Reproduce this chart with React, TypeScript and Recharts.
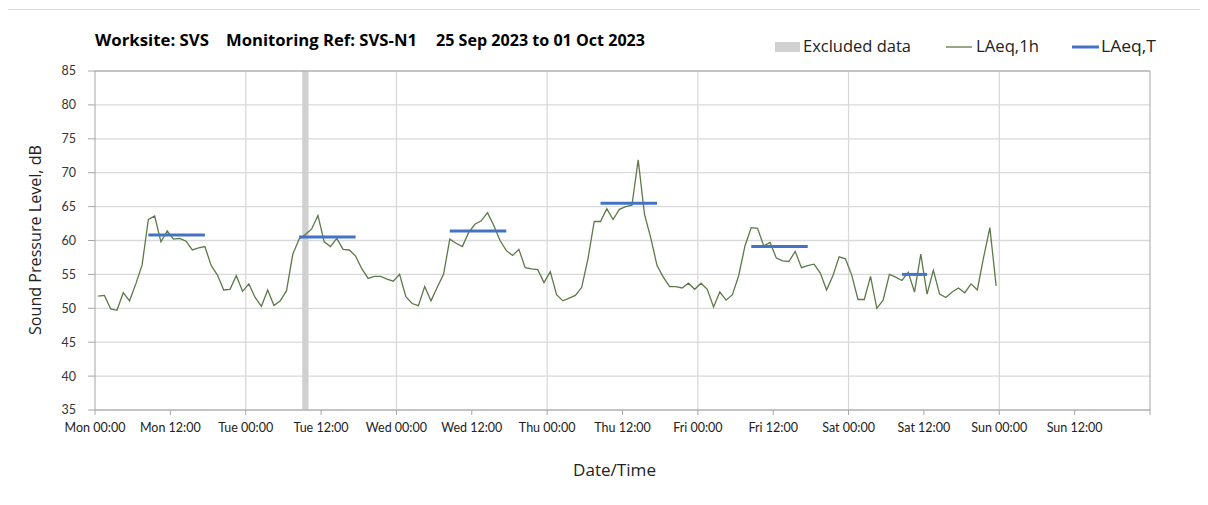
import React from 'react';
import { ComposedChart, Line, XAxis, YAxis, CartesianGrid, ReferenceLine, ReferenceArea } from 'recharts';

// Hourly LAeq,1h values (dB), Mon 00:00 onwards, one per hour
const LAEQ_1H = [
  51.8, 51.9, 49.9, 49.7, 52.3, 51.1, 53.6, 56.4, 63.1, 63.6, 59.8, 61.4,
  60.2, 60.3, 59.9, 58.6, 58.9, 59.1, 56.3, 54.9, 52.7, 52.8, 54.8, 52.5,
  53.6, 51.6, 50.3, 52.7, 50.4, 51.1, 52.6, 58.0, 60.2, 60.9, 61.7, 63.7,
  59.8, 59.1, 60.3, 58.7, 58.6, 57.7, 55.8, 54.4, 54.7, 54.7, 54.3, 54.0,
  55.0, 51.7, 50.7, 50.4, 53.2, 51.1, 53.1, 55.0, 60.2, 59.6, 59.1, 61.2,
  62.4, 62.9, 64.1, 62.2, 60.0, 58.5, 57.8, 58.7, 56.0, 55.8, 55.7, 53.8,
  55.4, 52.0, 51.1, 51.5, 51.9, 53.1, 57.3, 62.8, 62.8, 64.7, 63.1, 64.6,
  65.0, 65.2, 71.9, 63.9, 60.4, 56.3, 54.6, 53.2, 53.2, 53.0, 53.7, 52.8,
  53.7, 52.8, 50.2, 52.4, 51.2, 52.0, 54.8, 59.2, 61.9, 61.8, 59.2, 59.7,
  57.4, 57.0, 56.9, 58.4, 56.0, 56.3, 56.5, 55.2, 52.7, 54.8, 57.6, 57.3,
  54.9, 51.3, 51.3, 54.7, 50.0, 51.2, 55.0, 54.6, 54.1, 55.3, 52.4, 58.0,
  52.1, 55.6, 52.1, 51.6, 52.4, 53.0, 52.3, 53.6, 52.7, 57.5, 61.9, 53.3,
];

// LAeq,T daytime periods (hours from Mon 00:00)
const PERIOD_START = [8.5, 32.5, 56.5, 80.5, 104.5, 128.5];
const PERIOD_END = [17.5, 41.5, 65.5, 89.5, 113.5, 132.5];
const PERIOD_LEVEL = [60.8, 60.5, 61.4, 65.5, 59.1, 55.0];

// Excluded data (hours)
const EXCLUDED_FROM = 33;
const EXCLUDED_TO = 34;

const X_TICKS = [0, 12, 24, 36, 48, 60, 72, 84, 96, 108, 120, 132, 144, 156, 168];
const X_TICK_LABELS = [
  'Mon 00:00', 'Mon 12:00', 'Tue 00:00', 'Tue 12:00', 'Wed 00:00', 'Wed 12:00',
  'Thu 00:00', 'Thu 12:00', 'Fri 00:00', 'Fri 12:00', 'Sat 00:00', 'Sat 12:00',
  'Sun 00:00', 'Sun 12:00', '',
];
const DAY_LINES = [24, 48, 72, 96, 120, 144];
const Y_TICKS = [35, 40, 45, 50, 55, 60, 65, 70, 75, 80, 85];

const TITLE_PARTS = ['Worksite: SVS', 'Monitoring Ref: SVS-N1', '25 Sep 2023 to 01 Oct 2023'];
const LEGEND_LABELS = ['Excluded data', 'LAeq,1h', 'LAeq,T'];
const Y_TITLE = 'Sound Pressure Level, dB';
const X_TITLE = 'Date/Time';

const lineData = LAEQ_1H.map((v, i) => ({ x: i + 0.5, v }));
const periodData = PERIOD_START.map((s, i) => [
  { x: s, t: PERIOD_LEVEL[i] },
  { x: PERIOD_END[i], t: PERIOD_LEVEL[i] },
]);

const GREEN = '#5b7a47';
const BLUE = '#4472c4';
const GRID = '#d9d9d9';
const FRAME = '#a6a6a6';
const FONT = 'Lato, "Open Sans", sans-serif';
const LFONT = '"Open Sans", Lato, sans-serif';

export default function App() {
  const labelFor = (h: number) => {
    const i = X_TICKS.indexOf(h);
    return i >= 0 ? X_TICK_LABELS[i] : '';
  };
  return (
    <div style={{ position: 'relative', width: 1200, height: 497, fontFamily: LFONT }}>
      <div style={{ position: 'absolute', left: -3, top: 1, width: 1203, height: 496, borderLeft: '1px solid #d9d9d9', borderTop: '1px solid #d9d9d9' }} />
      <div style={{ position: 'absolute', left: 0, top: 0 }}>
        <ComposedChart width={1200} height={490} margin={{ top: 63, right: 58, left: 27, bottom: 58 }}>
          <CartesianGrid vertical={false} stroke={GRID} strokeWidth={1.3} />
          <ReferenceArea x1={EXCLUDED_FROM} x2={EXCLUDED_TO} y1={35} y2={85} fill="#d0d0d0" fillOpacity={1} stroke="none" ifOverflow="hidden" />
          {DAY_LINES.map((d) => (
            <ReferenceLine key={d} x={d} stroke={GRID} strokeWidth={1.3} />
          ))}
          <ReferenceLine y={85} stroke={FRAME} strokeWidth={1} />
          <ReferenceLine x={168} stroke={FRAME} strokeWidth={1} />
          <XAxis
            dataKey="x"
            type="number"
            domain={[0, 168]}
            ticks={X_TICKS}
            interval={0}
            allowDataOverflow
            height={30}
            tickFormatter={labelFor}
            tick={{ fontSize: 12.5, fill: '#222', fontFamily: FONT }}
            tickSize={5}
            tickMargin={8}
            stroke={FRAME}
          />
          <YAxis
            type="number"
            domain={[35, 85]}
            ticks={Y_TICKS}
            interval={0}
            width={60}
            tick={{ fontSize: 12.5, fill: '#333', fontFamily: FONT }}
            tickSize={7}
            tickMargin={12}
            stroke={FRAME}
          />
          <Line data={lineData} dataKey="v" type="linear" stroke={GREEN} strokeWidth={1.3} dot={false} isAnimationActive={false} />
          {periodData.map((d, i) => (
            <Line key={i} data={d} dataKey="t" type="linear" stroke={BLUE} strokeWidth={3} dot={false} isAnimationActive={false} />
          ))}
        </ComposedChart>
      </div>
      <svg width={1208} height={505} style={{ position: 'absolute', left: -8, top: -8, pointerEvents: 'none' }}>
        <g fontFamily={LFONT} fontWeight={700} fontSize={15.5} fill="#000">
          <text x={95} y={46} textLength={114} lengthAdjust="spacingAndGlyphs">{TITLE_PARTS[0]}</text>
          <text x={226} y={46} textLength={191} lengthAdjust="spacingAndGlyphs">{TITLE_PARTS[1]}</text>
          <text x={436} y={46} textLength={209} lengthAdjust="spacingAndGlyphs">{TITLE_PARTS[2]}</text>
        </g>
        <g fontFamily={LFONT} fontSize={15.5} fill="#222">
          <rect x={775} y={42} width={25} height={10} fill="#d0d0d0" />
          <text x={803} y={52} textLength={108} lengthAdjust="spacingAndGlyphs">{LEGEND_LABELS[0]}</text>
          <line x1={946} x2={972} y1={47} y2={47} stroke={GREEN} strokeWidth={1.3} />
          <text x={976} y={52} textLength={63} lengthAdjust="spacingAndGlyphs">{LEGEND_LABELS[1]}</text>
          <line x1={1072} x2={1099} y1={47} y2={47} stroke={BLUE} strokeWidth={3} />
          <text x={1101} y={52} textLength={55} lengthAdjust="spacingAndGlyphs">{LEGEND_LABELS[2]}</text>
          <text x={35} y={240} transform="rotate(-90 35 240)" dy={5.5} textAnchor="middle" textLength={190} lengthAdjust="spacingAndGlyphs">{Y_TITLE}</text>
          <text x={614.5} y={476} textAnchor="middle" textLength={83} lengthAdjust="spacingAndGlyphs">{X_TITLE}</text>
        </g>
      </svg>
    </div>
  );
}
